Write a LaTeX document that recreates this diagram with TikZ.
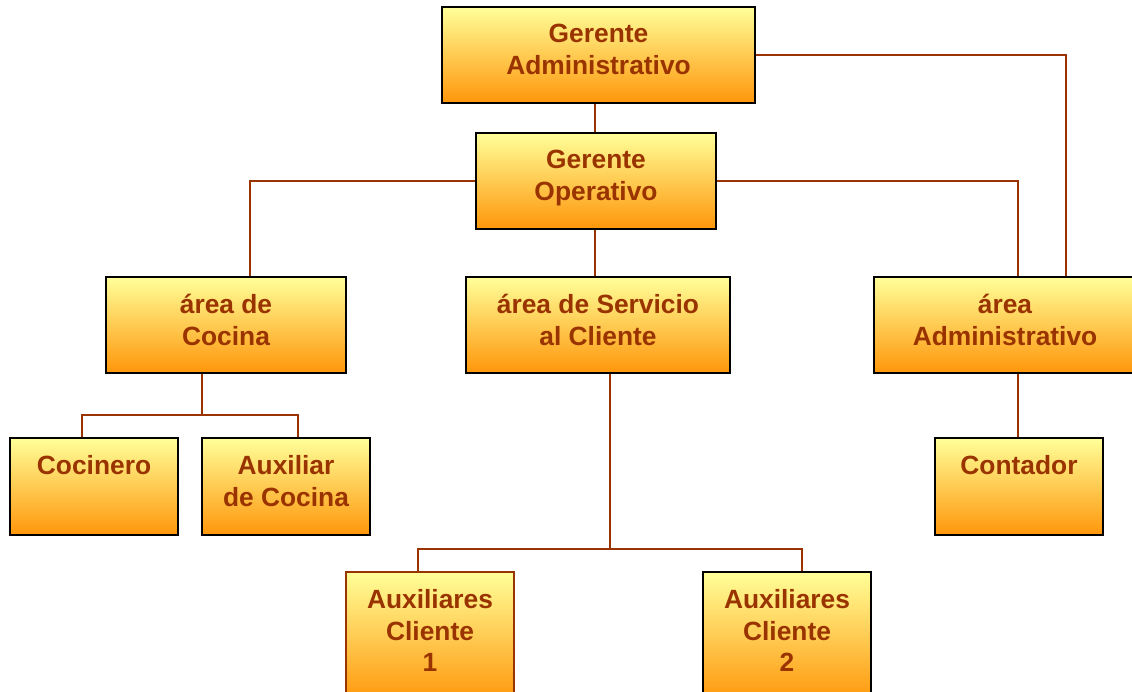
\documentclass[tikz,border=0pt]{standalone}
\usepackage{fontspec}
\setmainfont{Liberation Sans}
\usetikzlibrary{calc,positioning}
\definecolor{boxtop}{RGB}{255,255,153}
\definecolor{boxbottom}{RGB}{255,150,10}
\definecolor{orgbrown}{RGB}{153,51,0}

\begin{document}
\begin{tikzpicture}[
    x=0.02cm, y=-0.02cm,
    unit/.style 2 args={rectangle, draw=black, line width=1.1pt, top color=boxtop, bottom color=boxbottom,
        minimum width=#1*0.02cm, minimum height=#2*0.02cm, inner sep=0pt},
    title/.style={anchor=north, yshift=-0.36cm, inner sep=0pt, align=center, text=orgbrown,
        font=\fontsize{15}{18}\selectfont\bfseries},
    link/.style={draw=orgbrown, line width=0.8pt}
]
\useasboundingbox (0,0) rectangle (1132,691);

% Management
\node[unit={313}{96}, label={[title]north:Gerente\\Administrativo}] (ga) at (598.5,55) {};
\node[unit={240}{96}, label={[title]north:Gerente\\Operativo}] (go) at (596,181) {};

% Areas
\node[unit={240}{96}, label={[title]north:área de\\Cocina}] (cocina) at (226,325) {};
\node[unit={264}{96}, label={[title]north:área de Servicio\\al Cliente}] (serv) at (598,325) {};
\node[unit={262}{96}, label={[title]north:área\\Administrativo}] (aadm) at (1005,325) {};

% Staff
\node[unit={168}{97}, label={[title]north:Cocinero}] (cocinero) at (94,486.5) {};
\node[unit={168}{97}, label={[title]north:Auxiliar\\de Cocina}] (auxcoc) at (286,486.5) {};
\node[unit={168}{97}, label={[title]north:Contador}] (contador) at (1019,486.5) {};
\node[unit={168}{130}, draw=orgbrown, label={[title]north:Auxiliares\\Cliente\\1}] (aux1) at (430,637) {};
\node[unit={168}{130}, label={[title]north:Auxiliares\\Cliente\\2}] (aux2) at (787,637) {};

% Connectors
\draw[link] (go.north -| 595,0) -- (ga.south -| 595,0);
\draw[link] (ga.east) -| ($(aadm.north)+(61,0)$);
\draw[link] (go.west) -| ($(cocina.north)+(24,0)$);
\draw[link] (go.east) -| ($(aadm.north)+(13,0)$);
\draw[link] (go.south -| 595,0) -- (serv.north -| 595,0);

\coordinate (jcoc) at ($(cocina.south)+(-24,41)$);
\draw[link] (cocina.south -| jcoc) -- (jcoc);
\draw[link] ($(cocinero.north)+(-12,0)$) |- (jcoc) -| ($(auxcoc.north)+(12,0)$);

\coordinate (jserv) at ($(serv.south)+(12,175)$);
\draw[link] (serv.south -| jserv) -- (jserv);
\draw[link] ($(aux1.north)+(-12,0)$) |- (jserv) -| ($(aux2.north)+(15,0)$);

\draw[link] ($(aadm.south)+(13,0)$) -- (contador.north -| 1018,0);

\end{tikzpicture}
\end{document}
